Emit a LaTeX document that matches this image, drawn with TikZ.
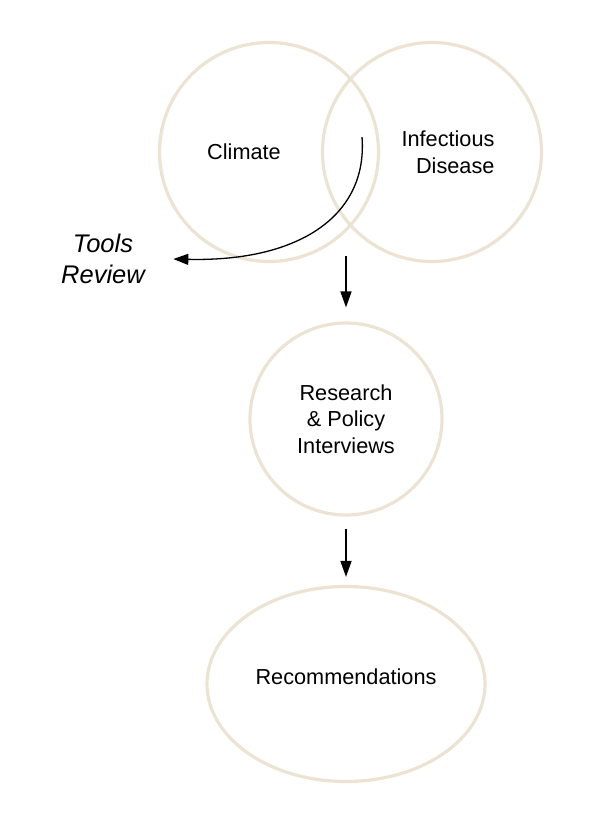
\documentclass[tikz,border=0pt]{standalone}
\usepackage{fontspec}
\setmainfont{Liberation Sans}
\usetikzlibrary{positioning,shapes.geometric,arrows.meta}
\definecolor{beige}{RGB}{236,227,211}
\begin{document}
\begin{tikzpicture}[
    x=1pt, y=-1pt,
    node distance=163pt,
    theme/.style={
      draw=beige,
      line width=3.2pt,
      circle,
      minimum size=219pt
    },
    mot/.style={
      font=\fontsize{21.7}{26.5}\selectfont,
      align=center
    },
    fleche/.style={
      -{Triangle[length=16pt,width=11pt]},
      line width=1.6pt
    }
  ]
  \useasboundingbox (0,0) rectangle (600,824);
  \node[theme] (climate) at (269,152) {};
  \node[theme, right of=climate] (infect) {};
  \node[mot] (climatetxt) at ([xshift=-25pt]climate.center) {Climate};
  \node[mot, align=right] (infecttxt) at ([xshift=16pt]infect.center) {Infectious\\Disease};
  \node[theme, minimum size=192pt, mot] (research) at (346,419) {Research\\\& Policy\\Interviews};
  \node[draw=beige, line width=3.2pt, ellipse, minimum width=278pt, minimum height=195pt,
    below of=research, node distance=265pt] (recs) {};
  \node[mot] (recstxt) at ([yshift=7pt]recs.center) {Recommendations};
  \node[mot, font=\fontsize{25.5}{31}\selectfont\itshape] (tools) at (103,259) {Tools\\Review};
  \coordinate (overlap) at (362,137);
  \coordinate (vennbot) at (346,256);
  \draw[fleche, line width=1.3pt, -{Triangle[length=15pt,width=11pt]}]
    (overlap) .. controls (368,215) and (300,262) .. ([xshift=25pt]tools.east);
  \draw[fleche, shorten >=14pt] (vennbot) -- (research.north);
  \draw[fleche, shorten <=12pt, shorten >=8pt] (research.south) -- (recs.north);
\end{tikzpicture}
\end{document}
